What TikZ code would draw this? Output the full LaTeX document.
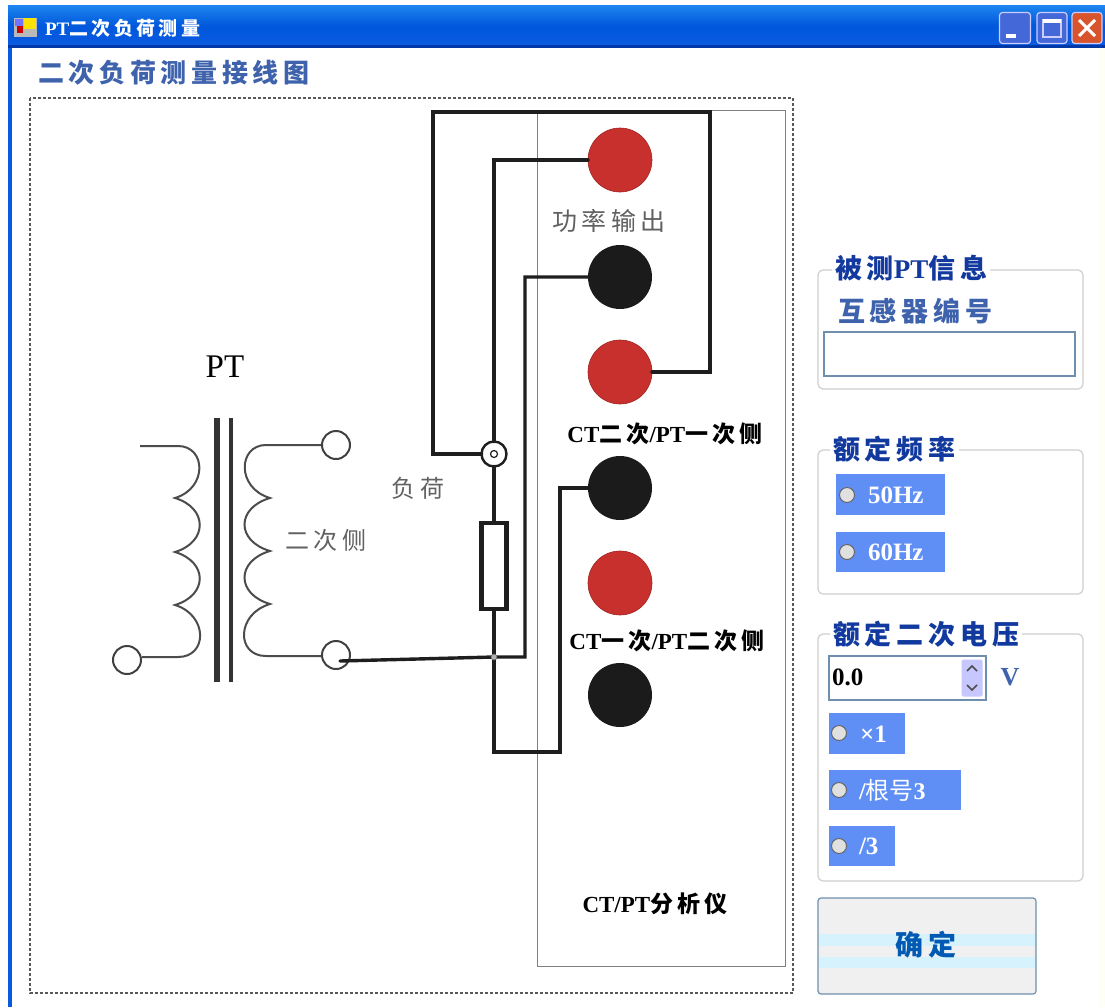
\documentclass[tikz,border=0pt]{standalone}
\usepackage{fontspec}
\setmainfont{Liberation Serif}
\newfontfamily\cjk{Noto Sans CJK SC}
\newfontfamily\cjkl{Noto Sans CJK SC}[LetterSpace=18]
\newcommand{\zhb}[1]{{\cjkl\bfseries #1}}
\newcommand{\zhr}[1]{{\cjkl #1}}
\newcommand{\latb}[1]{{\rmfamily\bfseries #1}}
\newcommand{\fs}[1]{\fontsize{#1}{#1}\selectfont}
\definecolor{wire}{HTML}{1E1E1E}
\definecolor{redt}{HTML}{C8302E}
\definecolor{blackt}{HTML}{1B1B1B}
\definecolor{navy}{HTML}{12399E}
\definecolor{steel}{HTML}{3E62AC}
\definecolor{radio}{HTML}{5F8FF5}
\definecolor{groupl}{HTML}{CFCFCF}
\definecolor{boxl}{HTML}{6F8FAE}
\definecolor{bartop}{HTML}{1E86F0}
\definecolor{barmid}{HTML}{0058DC}
\definecolor{barbot}{HTML}{0A5AE0}
\definecolor{barline}{HTML}{0038A8}
\definecolor{winbtn}{HTML}{4468D8}
\definecolor{closebtn}{HTML}{D8542C}
\tikzset{
  every node/.style={inner sep=0pt,outer sep=0pt},
  term/.style={circle,draw=black!75,line width=2pt,fill=white,minimum size=28pt},
  postr/.style={circle,fill=redt,draw=redt!80!black,line width=.6pt,minimum size=64pt},
  postb/.style={circle,fill=blackt,minimum size=64pt},
  thickwire/.style={draw=wire,line width=3.4pt,line cap=round,line join=miter},
  coil/.style={draw=black!70,line width=2pt},
  groupbox/.style={draw=groupl,line width=1.2pt,rounded corners=5pt},
  grouplabel/.style={fill=white,inner xsep=3pt,inner ysep=1pt,anchor=west,text=navy},
  radiobg/.style={fill=radio},
  radiodot/.style={circle,draw=black!60,line width=1pt,fill=black!12,minimum size=15pt},
  radiotext/.style={anchor=west,text=white},
  inputbox/.style={draw=boxl,line width=1.2pt,fill=white},
  capt/.style={anchor=center,text=black},
  grayt/.style={anchor=center,text=black!62},
  winbutton/.style={draw=white!80!blue,line width=1.2pt,rounded corners=3pt,minimum width=31pt,minimum height=31pt},
}
\begin{document}
\begin{tikzpicture}[x=1pt,y=-1pt]
\useasboundingbox (0,0) rectangle (1105,1007);
\fill[white] (0,0) rectangle (1105,1007);
\fill[yellow!4] (1099,47) rectangle (1105,1007);
% window frame
\fill[barbot] (8,47) rectangle (12,1007);
\shade[top color=bartop,bottom color=barbot,middle color=barmid] (8,5) rectangle (1105,46);
\fill[barline] (8,45) rectangle (1105,48);
% icon
\fill[gray!55] (14,18) rectangle (37,37);
\fill[blue!55] (15,19) rectangle (23,26);
\fill[yellow!85!orange] (24,18) rectangle (36,29);
\fill[red!80!black] (17,26) rectangle (23,33);
\node[anchor=west,text=white] (title) at (45,28) {\fs{19}\latb{PT}\zhb{二次负荷测量}};
% window buttons
\node[winbutton,fill=winbtn] (minb) at (1015,28) {};
\fill[white] (1006,34) rectangle (1016,38);
\node[winbutton,fill=winbtn,minimum width=30pt] (maxb) at (1052,28) {};
\draw[white!80!blue,line width=1.2pt] (1043,20) rectangle (1061,37);
\fill[white] (1043,19) rectangle (1061,23);
\node[winbutton,fill=closebtn,minimum width=30pt] (closeb) at (1087,28) {};
\draw[white,line width=3pt] (1079,20) -- (1095,36) (1095,20) -- (1079,36);
% heading + dashed frame
\node[anchor=west,text=steel] (head) at (38,73) {\fs{26}\zhb{二次负荷测量接线图}};
\draw[black!65,line width=1.3pt,densely dashed] (30,98) rectangle (793,993);
% analyser box
\node[draw=black!50,line width=1pt,minimum width=248pt,minimum height=856pt,anchor=north west] (ana) at (537,110) {};
% core
\fill[black!80] (214,418) rectangle (220,682);
\fill[black!80] (229,418) rectangle (233,682);
% coils
\coordinate (p0) at (140,446); \coordinate (p4) at (142,657);
\coordinate (s0) at (322,445); \coordinate (s4) at (322,656);
\draw[coil] (p0) -- (178,446) .. controls (206,446) and (208,488) .. (175,498)
  .. controls (208,508) and (208,542) .. (175,552)
  .. controls (208,562) and (208,595) .. (175,605)
  .. controls (208,615) and (208,657) .. (178,657) -- (p4);
\draw[coil] (s0) -- (266,445) .. controls (238,445) and (236,488) .. (270,498)
  .. controls (236,508) and (236,541) .. (270,551)
  .. controls (236,561) and (236,594) .. (270,604)
  .. controls (236,614) and (236,656) .. (266,656) -- (s4);
\node[term] (tp) at (127,660) {};
\node[term] (ts1) at (336,445) {};
\node[term] (ts2) at (336,655) {};
% posts
\node[postr] (r1) at (620,160) {};
\node[postb] (b1) at (620,277) {};
\node[postr] (r2) at (620,372) {};
\node[postb] (b2) at (620,488) {};
\node[postr] (r3) at (620,583) {};
\node[postb] (b3) at (620,695) {};
% resistor and ring
\node[draw=wire,line width=4.5pt,fill=white,minimum width=25pt,minimum height=86pt] (res) at (494,566) {};
\node[circle,draw=wire,line width=2.4pt,minimum size=25pt] (ring) at (494,454) {};
\node[circle,draw=wire,line width=1.2pt,fill=white,minimum size=7pt] (ringc) at (494,454) {};
\coordinate (j) at (494,657);
\coordinate (ws) at (340,661);
% wires
\draw[thickwire] (ws) -- (j) -- (525,657) |- (b1.west);
\draw[thickwire] (ring.south) -- (res.north);
\draw[thickwire] (res.south) -- (j) -- (494,752) -- (560,752) |- (b2.west);
\draw[thickwire] (ring.north) |- (r1.west);
\draw[thickwire] (ring.west) -| (433,112) -- (710,112) |- (r2.east);
\node[circle,draw=black!60,line width=.6pt,fill=black!30,minimum size=6pt] (jd) at (j) {};
% diagram texts
\node[anchor=center,text=black] (pt) at (225,367) {\fs{33}PT};
\node[grayt] (sec) at (326,540) {\fs{24}\zhr{二次侧}};
\node[grayt] (load) at (418,488) {\fs{24}\zhr{负荷}};
\node[grayt] (pow) at (609,221) {\fs{25}\zhr{功率输出}};
\node[capt] (l1) at (665,434) {\fs{23}\latb{CT}\zhb{二次}\latb{/PT}\zhb{一次侧}};
\node[capt] (l2) at (667,641) {\fs{23}\latb{CT}\zhb{一次}\latb{/PT}\zhb{二次侧}};
\node[capt] (l3) at (655,904) {\fs{23}\latb{CT/PT}\zhb{分析仪}};
% group 1
\node[groupbox,minimum width=265pt,minimum height=119pt,anchor=north west] (g1) at (818,270) {};
\node[grouplabel] (g1t) at (832,268) {\fs{27}\zhb{被测}\latb{PT}\zhb{信息}};
\node[anchor=west,text=steel] (sn) at (838,311) {\fs{27}\zhb{互感器编号}};
\node[inputbox,minimum width=251pt,minimum height=44pt,anchor=north west] (snbox) at (824,332) {};
% group 2
\node[groupbox,minimum width=265pt,minimum height=144pt,anchor=north west] (g2) at (818,450) {};
\node[grouplabel] (g2t) at (830,449) {\fs{27}\zhb{额定频率}};
\node[radiobg,minimum width=109pt,minimum height=41pt,anchor=north west] (f50) at (836,474) {};
\node[radiodot] (f50d) at (847,495) {};
\node[radiotext] (f50t) at (868,495) {\fs{25}\latb{50Hz}};
\node[radiobg,minimum width=109pt,minimum height=40pt,anchor=north west] (f60) at (836,532) {};
\node[radiodot] (f60d) at (847,552) {};
\node[radiotext] (f60t) at (868,552) {\fs{25}\latb{60Hz}};
% group 3
\node[groupbox,minimum width=265pt,minimum height=247pt,anchor=north west] (g3) at (818,634) {};
\node[grouplabel] (g3t) at (830,634) {\fs{27}\zhb{额定二次电压}};
\node[inputbox,minimum width=157pt,minimum height=44pt,anchor=north west] (spin) at (829,656) {};
\node[anchor=west,text=black] (spv) at (832,677) {\fs{25}\latb{0.0}};
\node[fill=blue!22,rounded corners=1.5pt,minimum width=21pt,minimum height=37pt] (spb) at (972,678) {};
\draw[black!70,line width=1.6pt] (967,671) -- (972,666) -- (977,671) (967,685) -- (972,690) -- (977,685);
\node[anchor=center,text=steel] (vu) at (1010,677) {\fs{26}\latb{V}};
\node[radiobg,minimum width=76pt,minimum height=41pt,anchor=north west] (v1) at (829,713) {};
\node[radiodot] (v1d) at (839,733) {};
\node[radiotext] (v1t) at (860,734) {\fs{25}\latb{×1}};
\node[radiobg,minimum width=132pt,minimum height=40pt,anchor=north west] (v2) at (829,770) {};
\node[radiodot] (v2d) at (839,790) {};
\node[radiotext] (v2t) at (859,790) {\fs{24}\latb{/}{\cjk 根号}\latb{3}};
\node[radiobg,minimum width=66pt,minimum height=40pt,anchor=north west] (v3) at (829,826) {};
\node[radiodot] (v3d) at (839,846) {};
\node[radiotext] (v3t) at (859,846) {\fs{25}\latb{/3}};
% OK button
\node[draw=boxl,line width=1.2pt,rounded corners=3pt,fill=black!6,minimum width=218pt,minimum height=96pt,anchor=north west] (ok) at (818,898) {};
\fill[cyan!16] (819,934) rectangle (1035,946);
\fill[cyan!16] (819,957) rectangle (1035,968);
\node[anchor=center,text=blue!50!cyan!70!black] (okt) at (926,945) {\fs{28}\zhb{确定}};
\end{tikzpicture}
\end{document}
